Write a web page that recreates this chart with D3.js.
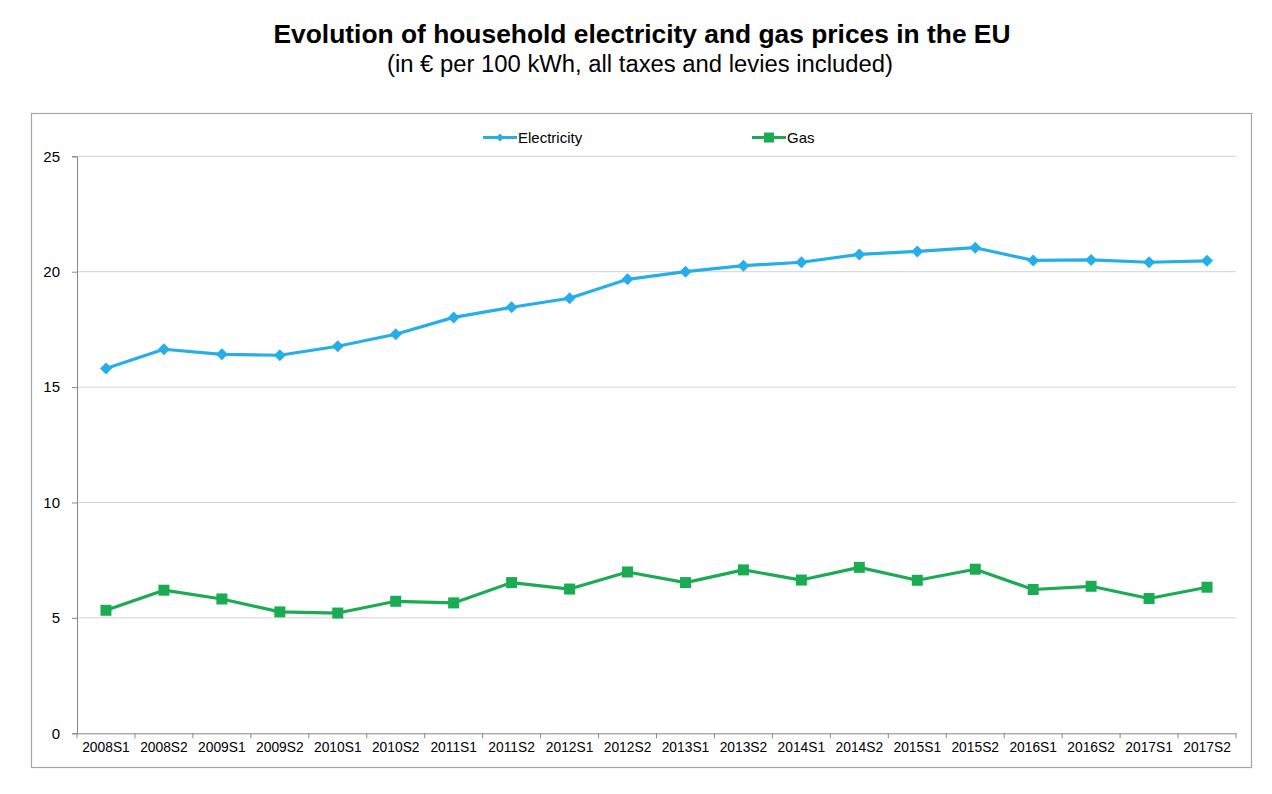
<!DOCTYPE html>
<html><head><meta charset="utf-8">
<script src="https://cdn.jsdelivr.net/npm/d3@7/dist/d3.min.js"></script>
<style>body{margin:0;background:#fff;}svg{display:block;font-family:"Liberation Sans",Arial,sans-serif;}</style>
</head><body>
<svg id="c" width="1272" height="794"></svg>
<script>
const categories = ["2008S1","2008S2","2009S1","2009S2","2010S1","2010S2","2011S1","2011S2","2012S1","2012S2","2013S1","2013S2","2014S1","2014S2","2015S1","2015S2","2016S1","2016S2","2017S1","2017S2"];
const electricity = [15.81,16.64,16.42,16.38,16.77,17.29,18.02,18.46,18.85,19.67,20.0,20.26,20.41,20.75,20.88,21.04,20.49,20.51,20.41,20.47];
const gas = [5.33,6.20,5.82,5.26,5.21,5.72,5.65,6.53,6.25,6.99,6.53,7.08,6.64,7.19,6.63,7.11,6.23,6.37,5.84,6.33];
const yTicks = [0,5,10,15,20,25];
const seriesNames = ["Electricity","Gas"];
const title = "Evolution of household electricity and gas prices in the EU";
const subtitle = "(in € per 100 kWh, all taxes and levies included)";

const svg = d3.select("#c");
const elecColor = "#27aee9", gasColor = "#1bab53";

svg.append("text").attr("x",642).attr("y",43).attr("text-anchor","middle")
  .attr("font-size",26.5).attr("font-weight","bold").attr("fill","#000")
  .attr("textLength",737).attr("lengthAdjust","spacingAndGlyphs").text(title);
svg.append("text").attr("x",640).attr("y",72).attr("text-anchor","middle")
  .attr("font-size",23).attr("fill","#000")
  .attr("textLength",506).attr("lengthAdjust","spacingAndGlyphs").text(subtitle);

// chart frame
svg.append("rect").attr("x",31.5).attr("y",113.5).attr("width",1220).attr("height",654)
  .attr("fill","#fff").attr("stroke","#a6a6a6").attr("stroke-width",1.2);

const L=77, R=1236, T=156.3, B=733.3;
const x = d3.scaleBand().domain(categories).range([L,R]);
const y = d3.scaleLinear().domain([0,25]).range([B,T]);

// gridlines
svg.append("g").selectAll("line").data(yTicks.filter(d=>d>0)).join("line")
  .attr("x1",L).attr("x2",R).attr("y1",d=>y(d)).attr("y2",d=>y(d))
  .attr("stroke","#d3d3d3").attr("stroke-width",1);

// y axis
const ya = svg.append("g").attr("transform",`translate(${L},0)`)
  .call(d3.axisLeft(y).tickValues(yTicks).tickSize(5).tickPadding(12));
ya.select(".domain").attr("stroke","#888");
ya.selectAll(".tick line").attr("stroke","#888");
ya.selectAll("text").attr("font-size",15).attr("fill","#000").attr("font-family","Liberation Sans, Arial, sans-serif");

// x axis
const xa = svg.append("g").attr("transform",`translate(0,${B})`)
  .call(d3.axisBottom(x).tickSize(0).tickPadding(9));
xa.select(".domain").attr("stroke","#888");
xa.selectAll("text").attr("font-size",13.8).attr("fill","#000").attr("font-family","Liberation Sans, Arial, sans-serif");
// boundary ticks
const bounds = categories.map(c=>x(c)).concat([R]);
svg.append("g").selectAll("line").data(bounds).join("line")
  .attr("x1",d=>d).attr("x2",d=>d).attr("y1",B).attr("y2",B+5).attr("stroke","#888");

const cx = c => x(c)+x.bandwidth()/2;
const line = d3.line().x((d,i)=>cx(categories[i])).y(d=>y(d));

svg.append("path").datum(electricity).attr("d",line).attr("fill","none")
  .attr("stroke",elecColor).attr("stroke-width",3.2).attr("stroke-linejoin","round");
svg.append("path").datum(gas).attr("d",line).attr("fill","none")
  .attr("stroke",gasColor).attr("stroke-width",3.2).attr("stroke-linejoin","round");

const diamond = s => `M0,${-s}L${s},0L0,${s}L${-s},0Z`;
svg.append("g").selectAll("path").data(electricity).join("path")
  .attr("d",diamond(6)).attr("fill",elecColor)
  .attr("transform",(d,i)=>`translate(${cx(categories[i])},${y(d)})`);
svg.append("g").selectAll("rect").data(gas).join("rect")
  .attr("x",(d,i)=>cx(categories[i])-5.5).attr("y",d=>y(d)-5.5)
  .attr("width",11).attr("height",11).attr("fill",gasColor);

// legend
const leg = [{name:seriesNames[0],color:elecColor,x:483,type:"d"},{name:seriesNames[1],color:gasColor,x:752,type:"s"}];
const lg = svg.append("g");
leg.forEach(l=>{
  lg.append("line").attr("x1",l.x).attr("x2",l.x+34).attr("y1",137.5).attr("y2",137.5)
    .attr("stroke",l.color).attr("stroke-width",3.2);
  if(l.type==="d") lg.append("path").attr("d",diamond(4)).attr("fill",l.color).attr("transform",`translate(${l.x+17},137.5)`);
  else lg.append("rect").attr("x",l.x+12).attr("y",132.5).attr("width",10).attr("height",10).attr("fill",l.color);
  lg.append("text").attr("x",l.x+35).attr("y",143).attr("font-size",15).attr("fill","#000").text(l.name);
});
</script>
</body></html>
